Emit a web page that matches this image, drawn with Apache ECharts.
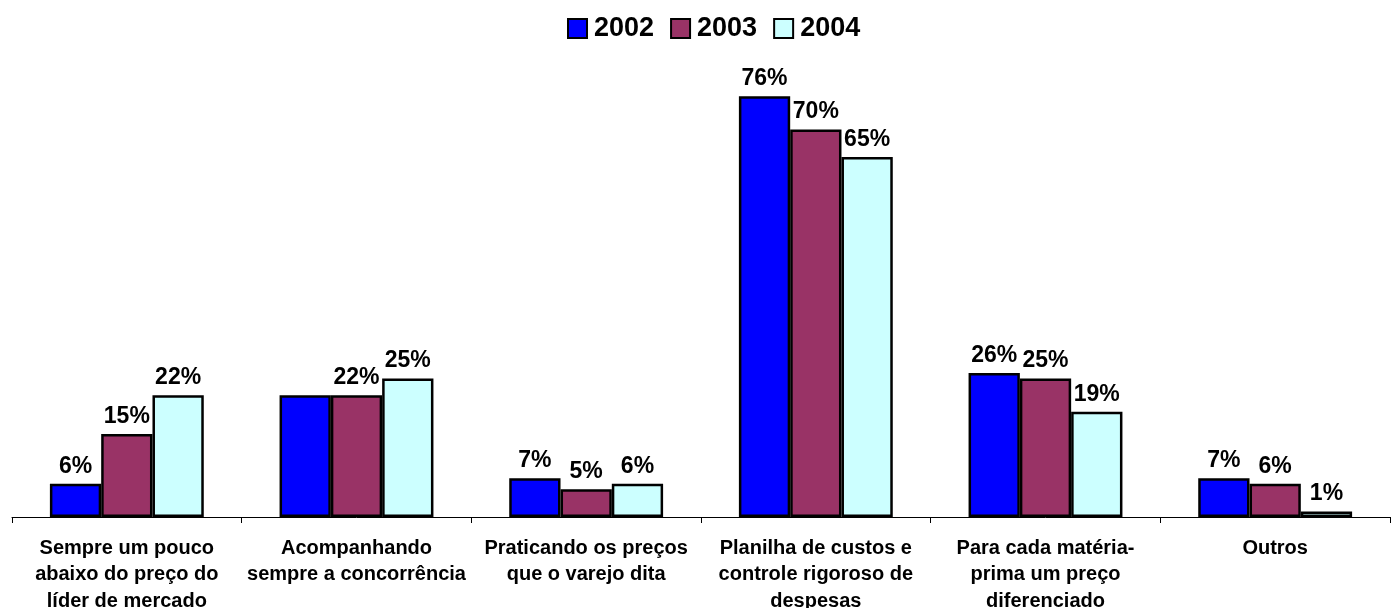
<!DOCTYPE html>
<html>
<head>
<meta charset="utf-8">
<script src="https://cdn.jsdelivr.net/npm/echarts@6/dist/echarts.min.js"></script>
<style>
  html, body { margin: 0; padding: 0; background: #fff; }
  #chart { width: 1391px; height: 608px; }
</style>
</head>
<body>
<div id="chart"></div>
<script>
// categorias (quebras de linha como no original)
const categories = [
  'Sempre um pouco\nabaixo do preço do\nlíder de mercado',
  'Acompanhando\nsempre a concorrência',
  'Praticando os preços\nque o varejo dita',
  'Planilha de custos e\ncontrole rigoroso de\ndespesas',
  'Para cada matéria-\nprima um preço\ndiferenciado',
  'Outros'
]
const years = ['2002', '2003', '2004']
const values2002 = [6, 22, 7, 76, 26, 7]
const values2003 = [15, 22, 5, 70, 25, 6]
const values2004 = [22, 25, 6, 65, 19, 1]
const colors = ['#0000ff', '#993366', '#ccffff']

const chart = echarts.init(document.getElementById('chart'))

function makeSeries(name, data, color, hidden) {
  return {
    name: name,
    type: 'bar',
    barGap: '0%',
    barCategoryGap: '33%',
    itemStyle: { color: color, borderColor: '#000', borderWidth: 2.5 },
    label: {
      show: true,
      position: 'top',
      distance: 6,
      formatter: '{c}%',
      color: '#000',
      fontFamily: 'Liberation Sans, Arial, sans-serif',
      fontWeight: 'bold',
      fontSize: 23
    },
    // no original, um dos rótulos sobrepostos não aparece
    data: data.map((v, i) => hidden === i ? { value: v, label: { show: false } } : v)
  }
}

chart.setOption({
  animation: false,
  legend: {
    data: years,
    left: 562,
    top: 10,
    itemWidth: 19,
    itemHeight: 19,
    itemGap: 16,
    icon: 'rect',
    itemStyle: { borderColor: '#000', borderWidth: 2 },
    textStyle: {
      fontFamily: 'Liberation Sans, Arial, sans-serif',
      fontWeight: 'bold',
      fontSize: 27,
      color: '#000',
      padding: [0, 0, 0, 2]
    }
  },
  grid: { left: 12, right: 1, top: 74, bottom: 91, containLabel: false, outerBoundsMode: 'none' },
  xAxis: {
    type: 'category',
    data: categories,
    axisLine: { lineStyle: { color: '#000', width: 1 } },
    axisTick: { show: true, length: 6, lineStyle: { color: '#000' } },
    axisLabel: {
      interval: 0,
      margin: 18,
      color: '#000',
      fontFamily: 'Liberation Sans, Arial, sans-serif',
      fontWeight: 'bold',
      fontSize: 20,
      lineHeight: 26.5
    }
  },
  yAxis: {
    type: 'value',
    min: 0,
    max: 80,
    show: false,
    splitLine: { show: false }
  },
  series: [
    makeSeries(years[0], values2002, colors[0], 1),
    makeSeries(years[1], values2003, colors[1]),
    makeSeries(years[2], values2004, colors[2])
  ]
})
</script>
</body>
</html>
